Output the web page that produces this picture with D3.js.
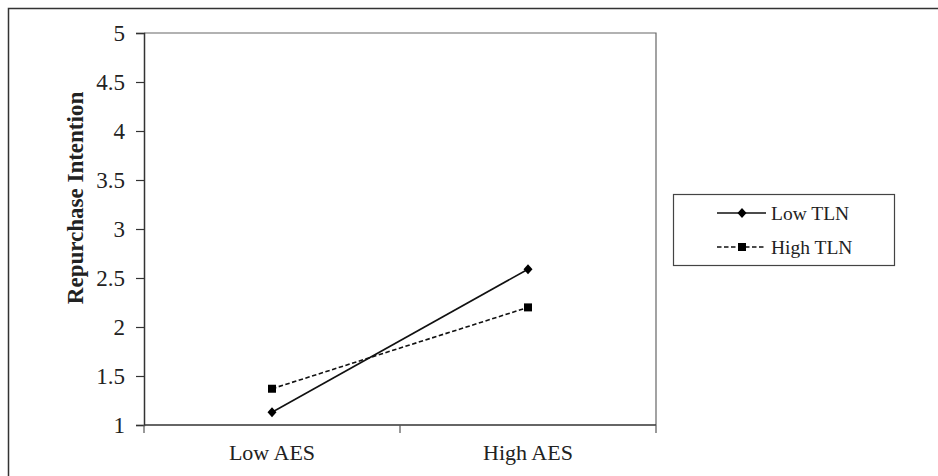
<!DOCTYPE html>
<html>
<head>
<meta charset="utf-8">
<script src="https://cdn.jsdelivr.net/npm/d3@7"></script>
<style>
  body { margin: 0; background: #fff; }
  svg text { font-family: "Liberation Serif", "Times New Roman", serif; fill: #222; }
</style>
</head>
<body>
<svg width="938" height="476"></svg>
<script>
let categories = ["Low AES", "High AES"];
let seriesNames = ["Low TLN", "High TLN"];
let lowTLN = [1.13, 2.59];
let highTLN = [1.37, 2.2];
let yTicks = [1, 1.5, 2, 2.5, 3, 3.5, 4, 4.5, 5];

let svg = d3.select("svg");

let plot = { left: 144, right: 656, top: 33, bottom: 425 };

let x = d3.scalePoint()
    .domain(categories)
    .range([plot.left, plot.right])
    .padding(0.5);

let xBand = d3.scaleBand()
    .domain(categories)
    .range([plot.left, plot.right]);

let y = d3.scaleLinear()
    .domain([1, 5])
    .range([plot.bottom, plot.top]);

// outer frame (right and bottom edges fall outside the picture)
svg.append("rect")
    .attr("x", 8.5).attr("y", 8.5)
    .attr("width", 1000).attr("height", 1000)
    .attr("fill", "none")
    .attr("stroke", "#333")
    .attr("stroke-width", 1.5);

// plot area border (top and right)
svg.append("path")
    .attr("d", `M${plot.left},${plot.top}H${plot.right}V${plot.bottom}`)
    .attr("fill", "none")
    .attr("stroke", "#666")
    .attr("stroke-width", 1.2);

// y axis
let yAxis = svg.append("g")
    .attr("transform", `translate(${plot.left},0)`)
    .call(d3.axisLeft(y).tickValues(yTicks).tickSize(8).tickPadding(11).tickFormat(d3.format("")));
yAxis.select(".domain").attr("stroke", "#333").attr("stroke-width", 1.5);
yAxis.selectAll(".tick line").attr("stroke", "#333").attr("stroke-width", 1.2);
yAxis.selectAll("text").style("font-size", "23px").attr("fill", "#222");

// x axis: ticks between categories
let xTicksPos = [plot.left, ...categories.map(c => xBand(c) + xBand.bandwidth())];
let xAxisG = svg.append("g");
xAxisG.append("line")
    .attr("x1", plot.left).attr("x2", plot.right)
    .attr("y1", plot.bottom).attr("y2", plot.bottom)
    .attr("stroke", "#333").attr("stroke-width", 1.5);
xAxisG.selectAll(".xtick")
    .data(xTicksPos)
    .enter().append("line")
        .attr("x1", d => d).attr("x2", d => d)
        .attr("y1", plot.bottom).attr("y2", plot.bottom + 8)
        .attr("stroke", "#555").attr("stroke-width", 1.2);
xAxisG.selectAll(".xlabel")
    .data(categories)
    .enter().append("text")
        .attr("x", d => x(d))
        .attr("y", 460)
        .attr("text-anchor", "middle")
        .style("font-size", "22px")
        .text(d => d);

// y axis title
svg.append("text")
    .attr("transform", `translate(83,${(plot.top + plot.bottom) / 2 - 31}) rotate(-90)`)
    .attr("text-anchor", "middle")
    .style("font-size", "23px")
    .style("font-weight", "bold")
    .text("Repurchase Intention");

let line = d3.line()
    .x((d, i) => x(categories[i]))
    .y(d => y(d));

let diamond = "M0,-5L4.5,0L0,5L-4.5,0Z";
let square = d3.symbol().type(d3.symbolSquare).size(64)();

// Low TLN: solid with diamonds
svg.append("path")
    .datum(lowTLN)
    .attr("d", line)
    .attr("fill", "none")
    .attr("stroke", "#111")
    .attr("stroke-width", 1.6);
svg.selectAll(".pt-low")
    .data(lowTLN)
    .enter().append("path")
        .attr("transform", (d, i) => `translate(${x(categories[i])},${y(d)})`)
        .attr("d", diamond)
        .attr("fill", "#000");

// High TLN: dashed with squares
svg.append("path")
    .datum(highTLN)
    .attr("d", line)
    .attr("fill", "none")
    .attr("stroke", "#111")
    .attr("stroke-width", 1.6)
    .attr("stroke-dasharray", "4.5,2.5");
svg.selectAll(".pt-high")
    .data(highTLN)
    .enter().append("path")
        .attr("transform", (d, i) => `translate(${x(categories[i])},${y(d)})`)
        .attr("d", square)
        .attr("fill", "#000");

// legend
let legend = svg.append("g");
legend.append("rect")
    .attr("x", 673.5).attr("y", 194.5)
    .attr("width", 221).attr("height", 71)
    .attr("fill", "#fff")
    .attr("stroke", "#444")
    .attr("stroke-width", 1.2);

let legendRows = legend.selectAll(".row")
    .data(seriesNames)
    .enter().append("g")
        .attr("transform", (d, i) => `translate(717,${213 + i * 34})`);

legendRows.append("line")
    .attr("x1", 0).attr("x2", 49)
    .attr("stroke", "#111")
    .attr("stroke-width", 1.6)
    .attr("stroke-dasharray", (d, i) => i === 0 ? null : "4.5,2.5");
legendRows.append("path")
    .attr("transform", "translate(25,0)")
    .attr("d", (d, i) => i === 0 ? diamond : square)
    .attr("fill", "#000");
legendRows.append("text")
    .attr("x", 54)
    .attr("y", 6.5)
    .style("font-size", "19.5px")
    .text(d => d);
</script>
</body>
</html>
